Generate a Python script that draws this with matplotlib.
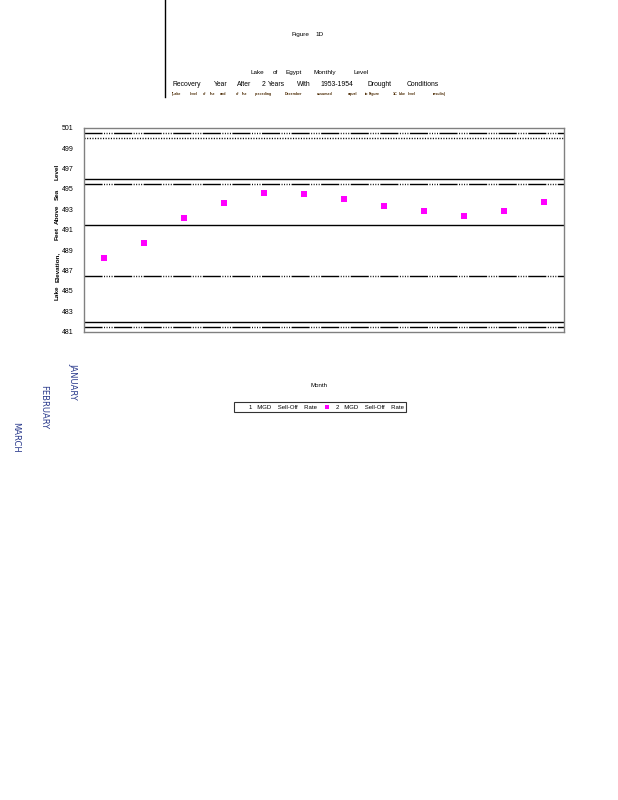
import matplotlib
matplotlib.use("Agg")
import matplotlib.pyplot as plt
from matplotlib.lines import Line2D

plt.rcParams['font.family'] = ['Liberation Sans', 'DejaVu Sans']

# data
months = list(range(1, 13))
month_labels = ["JANUARY", "FEBRUARY", "MARCH"]
level_2mgd = [488.2, 489.7, 492.2, 493.6, 494.6, 494.5, 494.0, 493.3, 492.8, 492.3, 492.8, 493.7]
level_1mgd = []

solid_levels = [496.0, 491.5, 482.0]
dashdot_levels = [500.5, 495.5, 486.5, 481.5]
dotted_levels = [500.0]

yticks = list(range(481, 502, 2))

title_words = [("Lake", 250), ("of", 273), ("Egypt", 286), ("Monthly", 313), ("Level", 353)]
sub_words = [("Recovery", 172), ("Year", 214), ("After", 237), ("2", 262), ("Years", 268),
             ("With", 297), ("1953-1954", 320), ("Drought", 367), ("Conditions", 407)]
note_words = [("(Lake", 172), ("level", 190), ("of", 203), ("the", 210), ("end", 220),
              ("of", 236), ("the", 242), ("preceding", 255), ("December", 285),
              ("assumed", 317), ("equal", 348), ("to", 365), ("Figure", 369), ("1C", 393),
              ("lake", 399), ("level", 408), ("results)", 433)]
ylabel_words = [("Level", 172), ("Sea", 194), ("Above", 214), ("Feet", 234),
                ("Elevation,", 267), ("Lake", 293)]

W, H = 618, 800


def fx(x):
    return x / W


def fy(y):
    return 1 - y / H


fig = plt.figure(figsize=(6.18, 8), dpi=100)
ax = fig.add_axes([fx(84), fy(332), fx(564) - fx(84), fy(127.7) - fy(332)])

dashdotdot = (0, (13, 1.1, 0.7, 1.1, 0.7, 1.1, 0.7, 1.1, 0.7, 1.1))
for v in solid_levels:
    ax.axhline(v, color='black', lw=1.0, solid_capstyle='butt')
for v in dashdot_levels:
    ax.axhline(v, color='black', lw=1.0, linestyle=dashdotdot)
for v in dotted_levels:
    ax.axhline(v, color='black', lw=1.0, linestyle=(0, (0.8, 1.1)))

ax.plot(level_1mgd, level_1mgd, linestyle='none', marker='none', label='1   MGD    Sell-Off    Rate')
ax.plot(months, level_2mgd, linestyle='none', marker='s', markersize=4.2,
        color='#ff00ff', markeredgewidth=0, label='2   MGD    Sell-Off    Rate')

ax.set_xlim(0.5, 12.5)
ax.set_ylim(480.98, 501)
ax.set_yticks(yticks)
ax.set_yticklabels([str(t) for t in yticks], fontsize=5.0)
ax.set_xticks([])
ax.tick_params(axis='y', length=0, pad=7.5)
for s in ax.spines.values():
    s.set_color('#808080')
    s.set_linewidth(1.0)

for w, y in ylabel_words:
    fig.text(fx(57), fy(y), w, rotation=90, ha='center', va='center',
             fontsize=4.6, fontweight='bold')

# titles
fig.text(fx(291), fy(36), "Figure", ha='left', va='baseline', fontsize=4.6)
fig.text(fx(315), fy(36), "1D", ha='left', va='baseline', fontsize=4.6)
for w, x in title_words:
    fig.text(fx(x), fy(74), w, ha='left', va='baseline', fontsize=4.6)
for w, x in sub_words:
    fig.text(fx(x), fy(86), w, ha='left', va='baseline', fontsize=4.9)
for w, x in note_words:
    fig.text(fx(x), fy(95), w, ha='left', va='baseline', fontsize=2.6, fontweight='bold',
             color='#4a2800')

fig.add_artist(Line2D([fx(165), fx(165)], [fy(0), fy(97)], color='black', lw=1.0))

# x label
fig.text(fx(319), fy(386), "Month", ha='center', va='center', fontsize=4.4)

# garbled month labels at the left
for lab, x, y in zip(month_labels, [73, 44, 16], [363, 385, 422]):
    fig.text(fx(x), fy(y), lab, rotation=-90, ha='center', va='top',
             fontsize=6, color='#2a3a8c', family='DejaVu Sans')

leg = fig.legend(loc='center', bbox_to_anchor=(fx(320), fy(407)), ncol=2,
                 fontsize=4.3, frameon=True, fancybox=False, edgecolor='black',
                 borderpad=0.35, handlelength=1.4, handletextpad=0.8, columnspacing=1.0,
                 markerscale=0.8)
leg.get_frame().set_linewidth(0.8)

fig.savefig('out.png', dpi=100)
